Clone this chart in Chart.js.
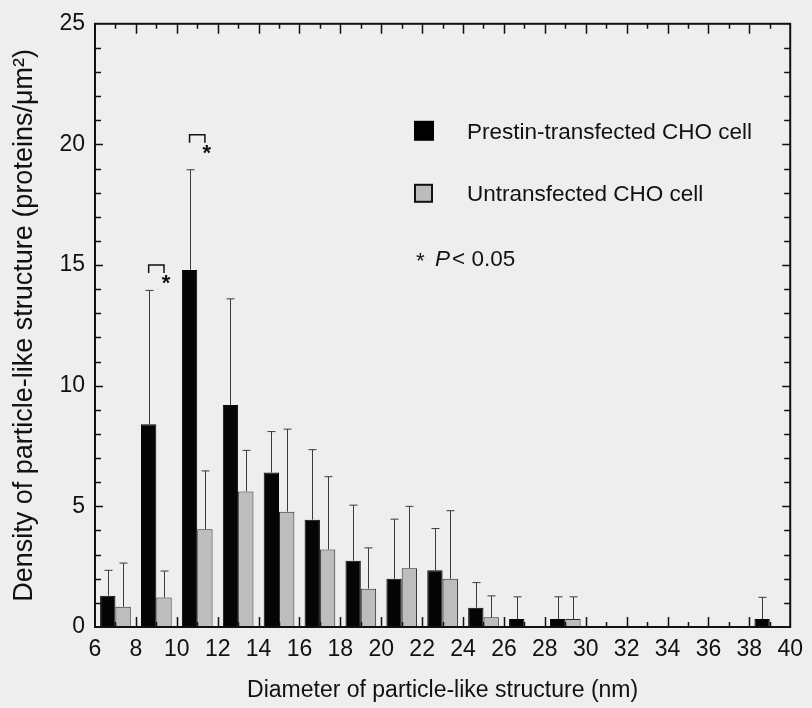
<!DOCTYPE html>
<html>
<head>
<meta charset="utf-8">
<script src="https://cdn.jsdelivr.net/npm/chart.js@4.4.1/dist/chart.umd.min.js"></script>
<style>
  html, body { margin: 0; padding: 0; background: #eeeeee; }
  #wrap { width: 812px; height: 708px; }
</style>
</head>
<body>
<div id="wrap"><canvas id="particleChart" width="812" height="708"></canvas></div>
<script>
// bin centres (nm) - each bar pair sits between two even ticks
var bins = [7, 9, 11, 13, 15, 17, 19, 21, 23, 25, 27, 29, 31, 33, 35, 37, 39];
var prestin   = [1.3, 8.4, 14.8, 9.2, 6.4, 4.45, 2.75, 2.0, 2.35, 0.8, 0.33, 0.33, 0, 0, 0, 0, 0.33];
var prestinSD = [1.05, 5.55, 4.15, 4.4, 1.7, 2.9, 2.3, 2.47, 1.73, 1.04, 0.92, 0.92, 0, 0, 0, 0, 0.9];
var untrans   = [0.84, 1.22, 4.05, 5.62, 4.78, 3.21, 1.59, 2.43, 2.0, 0.4, 0, 0.33, 0, 0, 0, 0, 0];
var untransSD = [1.81, 1.1, 2.42, 1.7, 3.42, 3.02, 1.69, 2.57, 2.82, 0.89, 0, 0.92, 0, 0, 0, 0, 0];
var xTickValues = [6, 8, 10, 12, 14, 16, 18, 20, 22, 24, 26, 28, 30, 32, 34, 36, 38, 40];
var yTickValues = [0, 5, 10, 15, 20, 25];
// significance marks (* P < 0.05)
var sigBins = [9, 11];
var sigLevels = [15.0, 20.4];

var FONT = "'Liberation Sans', Arial, sans-serif";
var TXT = '#111111';

function pts(vals) {
    return bins.map(function (b, i) { return { x: b, y: vals[i] }; });
}

var errorBars = {
    id: 'errorBars',
    afterDatasetsDraw: function (chart) {
        var ctx = chart.ctx, y = chart.scales.y;
        var sds = [prestinSD, untransSD];
        ctx.save();
        ctx.strokeStyle = '#3a3a3a';
        ctx.lineWidth = 1;
        chart.data.datasets.forEach(function (ds, di) {
            var meta = chart.getDatasetMeta(di);
            meta.data.forEach(function (bar, j) {
                var sd = sds[di][j];
                if (!sd) return;
                var top = y.getPixelForValue(ds.data[j].y + sd);
                var x = Math.round(bar.x) + 0.5;
                ctx.beginPath();
                ctx.moveTo(x, bar.y);
                ctx.lineTo(x, top);
                ctx.moveTo(x - 4, top);
                ctx.lineTo(x + 4, top);
                ctx.stroke();
            });
        });
        ctx.restore();
    }
};

var frameAndMarks = {
    id: 'frameAndMarks',
    beforeDraw: function (chart) {
        var ctx = chart.ctx;
        ctx.save();
        ctx.fillStyle = '#eeeeee';
        ctx.fillRect(0, 0, chart.width, chart.height);
        ctx.restore();
    },
    afterDraw: function (chart) {
        var ctx = chart.ctx, a = chart.chartArea;
        var xs = chart.scales.x, ys = chart.scales.y;
        ctx.save();
        ctx.strokeStyle = '#111';
        ctx.lineWidth = 1.5;
        // inward ticks on all four sides
        ctx.beginPath();
        for (var v = 7; v < 40; v++) {
            var px = Math.round(xs.getPixelForValue(v)) + 0.5;
            var len = v % 2 === 0 ? 10 : 5;
            ctx.moveTo(px, a.top); ctx.lineTo(px, a.top + len);
            ctx.moveTo(px, a.bottom); ctx.lineTo(px, a.bottom - len);
        }
        for (var w = 1; w < 25; w++) {
            var py = Math.round(ys.getPixelForValue(w)) + 0.5;
            var l2 = w % 5 === 0 ? 8 : 6;
            ctx.moveTo(a.left, py); ctx.lineTo(a.left + l2, py);
            ctx.moveTo(a.right, py); ctx.lineTo(a.right - l2, py);
        }
        ctx.stroke();
        ctx.lineWidth = 2;
        ctx.strokeRect(a.left, a.top, a.right - a.left, a.bottom - a.top);

        // significance brackets between the pair of bars
        var m0 = chart.getDatasetMeta(0), m1 = chart.getDatasetMeta(1);
        ctx.lineWidth = 1.5;
        ctx.fillStyle = '#111';
        ctx.font = 'bold 22px ' + FONT;
        ctx.textAlign = 'center';
        ctx.textBaseline = 'middle';
        sigBins.forEach(function (b, k) {
            var j = bins.indexOf(b);
            var x0 = m0.data[j].x, x1 = m1.data[j].x;
            var ty = ys.getPixelForValue(sigLevels[k]);
            ctx.beginPath();
            ctx.moveTo(x0, ty + 8); ctx.lineTo(x0, ty); ctx.lineTo(x1, ty); ctx.lineTo(x1, ty + 8);
            ctx.stroke();
            ctx.fillText('*', x1 + 2, ty + 19);
        });

        // legend
        var lx = a.left + 319, ly = a.top + 97;
        ctx.fillStyle = '#000';
        ctx.fillRect(lx, ly, 20, 20);
        ctx.fillStyle = '#bcbcbc';
        ctx.fillRect(lx + 1, ly + 64, 17, 17);
        ctx.lineWidth = 2;
        ctx.strokeStyle = '#111';
        ctx.strokeRect(lx + 1, ly + 64, 17, 17);
        ctx.fillStyle = TXT;
        ctx.textAlign = 'left';
        ctx.textBaseline = 'alphabetic';
        ctx.font = '22.5px ' + FONT;
        ctx.fillText('Prestin-transfected CHO cell', lx + 53, ly + 18);
        ctx.fillText('Untransfected CHO cell', lx + 53, ly + 80);
        var sx = lx + 2, sy = ly + 145;
        ctx.fillText('*', sx, sy + 2);
        sx += ctx.measureText('* ').width + 4;
        ctx.font = 'italic 22.5px ' + FONT;
        ctx.fillText('P', sx, sy);
        sx += ctx.measureText('P').width + 2;
        ctx.font = '22.5px ' + FONT;
        ctx.fillText('< 0.05', sx, sy);
        ctx.restore();
    }
};

var ctx = document.getElementById('particleChart').getContext('2d');
var particleChart = new Chart(ctx, {
    type: 'bar',
    data: {
        datasets: [{
            label: 'Prestin-transfected CHO cell',
            data: pts(prestin),
            backgroundColor: '#050505',
            borderColor: '#050505',
            borderWidth: 1,
            categoryPercentage: 0.75,
            barPercentage: 1.0
        }, {
            label: 'Untransfected CHO cell',
            data: pts(untrans),
            backgroundColor: '#bdbdbd',
            borderColor: '#2a2a2a',
            borderWidth: 1,
            categoryPercentage: 0.75,
            barPercentage: 1.0
        }]
    },
    options: {
        responsive: false,
        animation: false,
        layout: { padding: { top: 20, right: 17, left: 0, bottom: 0 } },
        plugins: {
            legend: { display: false },
            tooltip: { enabled: false }
        },
        scales: {
            x: {
                type: 'linear',
                min: 6,
                max: 40,
                offset: false,
                grid: { display: false, drawTicks: false },
                border: { display: false },
                afterBuildTicks: function (s) {
                    s.ticks = xTickValues.map(function (v) { return { value: v }; });
                },
                ticks: {
                    autoSkip: false,
                    maxRotation: 0,
                    padding: 9,
                    color: TXT,
                    font: { family: FONT, size: 23 }
                },
                title: {
                    display: true,
                    text: 'Diameter of particle-like structure (nm)',
                    color: TXT,
                    font: { family: FONT, size: 23 },
                    padding: { top: 0, bottom: 4 }
                },
                afterFit: function (s) { s.height = 81; }
            },
            y: {
                min: 0,
                max: 25,
                grid: { display: false, drawTicks: false },
                border: { display: false },
                afterBuildTicks: function (s) {
                    s.ticks = yTickValues.map(function (v) { return { value: v }; });
                },
                ticks: {
                    padding: 10,
                    color: TXT,
                    font: { family: FONT, size: 23 }
                },
                title: {
                    display: true,
                    text: 'Density of particle-like structure (proteins/\u03bcm\u00b2)',
                    color: TXT,
                    font: { family: FONT, size: 27 },
                    padding: { top: 8, bottom: 0 }
                },
                afterFit: function (s) { s.width = 95; }
            }
        }
    },
    plugins: [errorBars, frameAndMarks]
});
</script>
</body>
</html>
